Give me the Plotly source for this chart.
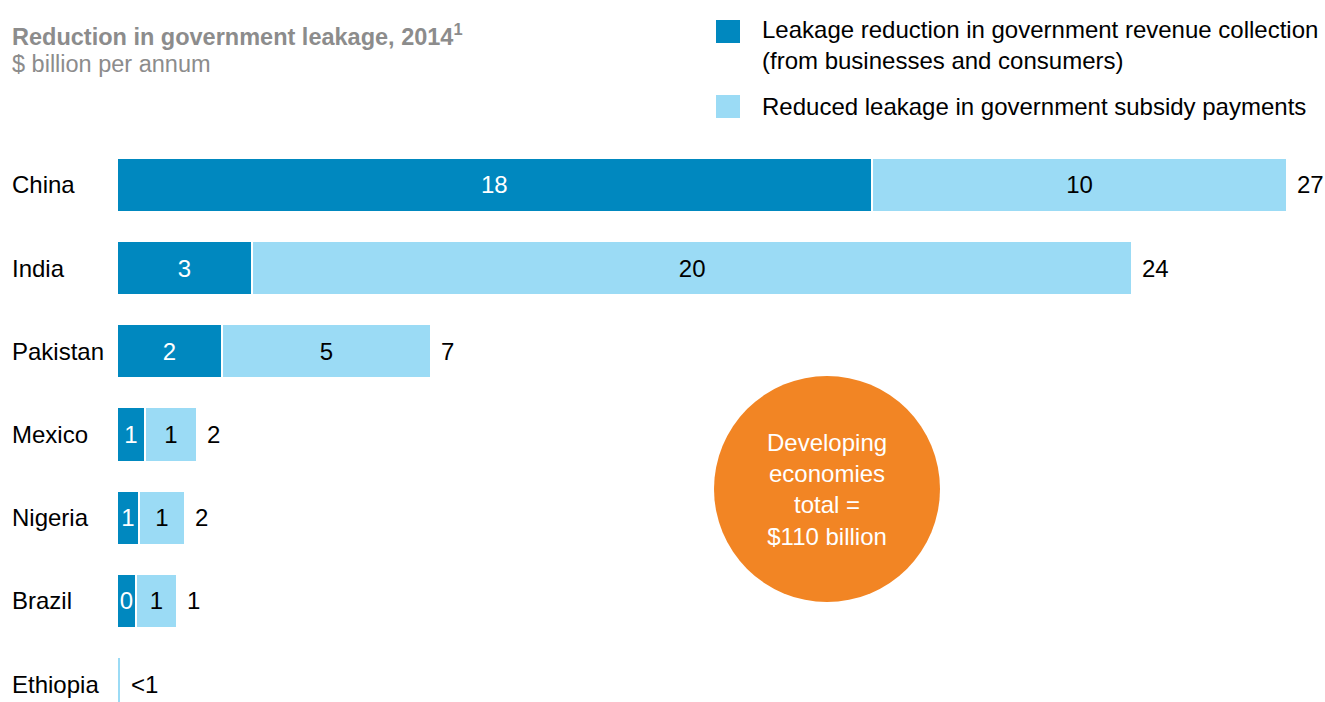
import plotly.graph_objects as go

# values ($ billion per annum)
paises = ['China', 'India', 'Pakistan', 'Mexico', 'Nigeria', 'Brazil', 'Ethiopia']
receita = [17.55, 3.14, 2.44, 0.65, 0.51, 0.44, 0.0]
subsidio = [9.67, 20.47, 4.86, 1.21, 1.07, 0.95, 0.09]
rot_receita = ['18', '3', '2', '1', '1', '0', '']
rot_subsidio = ['10', '20', '5', '1', '1', '1', '']
rot_total = ['27', '24', '7', '2', '2', '1', '<1']

titulo = 'Reduction in government leakage, 2014<sup>1</sup>'
subtitulo = '$ billion per annum'
legenda = ['Leakage reduction in government revenue collection<br>(from businesses and consumers)',
           'Reduced leakage in government subsidy payments']
circulo_txt = 'Developing<br>economies<br>total =<br>$110 billion'

AZUL = '#0088BF'
AZUL_CLARO = '#9BDBF5'
LARANJA = '#F28524'
CINZA = '#8C8C8C'
FONTE = 'Liberation Sans, Arial, sans-serif'

W, H = 1325, 702
L = 117
PW = W - L
px_unit = 43.0

fig = go.Figure()

fig.add_trace(go.Bar(
    y=paises, x=receita, orientation='h', name=legenda[0],
    marker=dict(color=AZUL, line=dict(color='white', width=2)),
    text=rot_receita, textposition='inside', insidetextanchor='middle',
    constraintext='none', textangle=0,
    textfont=dict(color='white', size=24, family=FONTE),
    width=0.65))

fig.add_trace(go.Bar(
    y=paises, x=subsidio, orientation='h', name=legenda[1],
    marker=dict(color=AZUL_CLARO, line=dict(color='white', width=2)),
    text=rot_subsidio, textposition='inside', insidetextanchor='middle',
    constraintext='none', textangle=0,
    textfont=dict(color='black', size=24, family=FONTE),
    width=0.65))

anots = []
for p, r, s, t in zip(paises, receita, subsidio, rot_total):
    anots.append(dict(x=r + s, y=p, xref='x', yref='y', text=t, showarrow=False,
                      xanchor='left', xshift=8, font=dict(size=24, color='black', family=FONTE)))
    anots.append(dict(x=(10 - L) / PW, y=p, xref='paper', yref='y', text=p, showarrow=False,
                      xanchor='left', font=dict(size=24, color='black', family=FONTE)))

# titulo
anots.append(dict(x=(10 - L) / PW, y=1 - 35 / H, xref='paper', yref='paper', text='<b>' + titulo + '</b>',
                  showarrow=False, xanchor='left', yanchor='middle',
                  font=dict(size=23.5, color=CINZA, family=FONTE)))
anots.append(dict(x=(10 - L) / PW, y=1 - 64 / H, xref='paper', yref='paper', text=subtitulo,
                  showarrow=False, xanchor='left', yanchor='middle',
                  font=dict(size=23.5, color=CINZA, family=FONTE)))

# legenda manual
anots.append(dict(x=(760 - L) / PW, y=1 - 45 / H, xref='paper', yref='paper', text=legenda[0],
                  showarrow=False, xanchor='left', yanchor='middle', align='left',
                  font=dict(size=24, color='black', family=FONTE)))
anots.append(dict(x=(760 - L) / PW, y=1 - 107 / H, xref='paper', yref='paper', text=legenda[1],
                  showarrow=False, xanchor='left', yanchor='middle', align='left',
                  font=dict(size=24, color='black', family=FONTE)))

shapes = [
    dict(type='rect', xref='paper', yref='paper', x0=(716 - L) / PW, x1=(740 - L) / PW,
         y0=1 - 43 / H, y1=1 - 20 / H, fillcolor=AZUL, line=dict(width=0)),
    dict(type='rect', xref='paper', yref='paper', x0=(716 - L) / PW, x1=(740 - L) / PW,
         y0=1 - 118 / H, y1=1 - 95 / H, fillcolor=AZUL_CLARO, line=dict(width=0)),
    dict(type='circle', xref='paper', yref='paper', x0=(714 - L) / PW, x1=(940 - L) / PW,
         y0=1 - 602 / H, y1=1 - 376 / H, fillcolor=LARANJA, line=dict(width=0), layer='below'),
]

anots.append(dict(x=(827 - L) / PW, y=1 - 489 / H, xref='paper', yref='paper', text=circulo_txt,
                  showarrow=False, xanchor='center', yanchor='middle', align='center',
                  font=dict(size=24, color='white', family=FONTE)))

passo = 83.17
fig.update_layout(
    width=W, height=H,
    margin=dict(l=L, r=0, t=0, b=0),
    barmode='stack', showlegend=False,
    plot_bgcolor='white', paper_bgcolor='white',
    xaxis=dict(range=[0, PW / px_unit], visible=False, fixedrange=True),
    yaxis=dict(range=[6 + 18 / passo, -185 / passo], visible=False, fixedrange=True,
               type='category', categoryorder='array', categoryarray=paises),
    annotations=anots, shapes=shapes,
    font=dict(family=FONTE),
)

fig.write_html('out.html', config={'displayModeBar': False},
               post_script="document.body.style.margin='0';document.body.style.overflow='hidden';")
